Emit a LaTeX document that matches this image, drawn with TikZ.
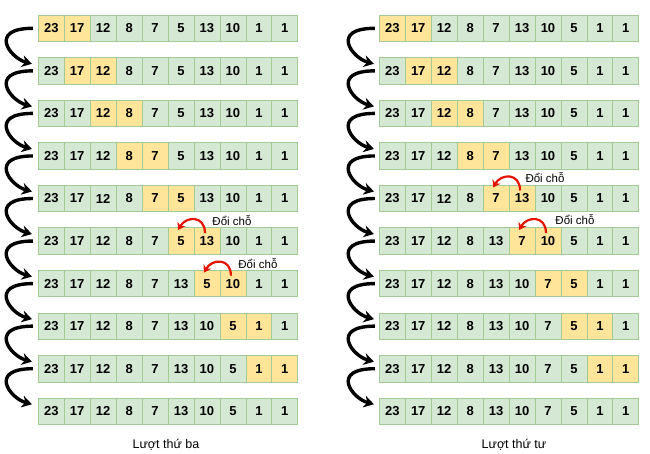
\documentclass[tikz,border=0pt]{standalone}
\usepackage{fontspec}
\setmainfont{Liberation Sans}
\usetikzlibrary{arrows.meta,calc}
\definecolor{gfill}{HTML}{D5E8D4}
\definecolor{gdraw}{HTML}{A3C994}
\definecolor{yfill}{HTML}{FFE599}
\definecolor{swapred}{HTML}{E51400}
\begin{document}
\begin{tikzpicture}[x=1pt,y=-1pt,
  cell/.style={draw=gdraw, fill=gfill, minimum width=25.95pt, minimum height=26.5pt,
    inner sep=0pt, line width=0.8pt, font=\fontsize{13}{15}\selectfont\bfseries},
  hl/.style={fill=yfill},
  flow/.style={line width=3.4pt, -{Stealth[length=10pt,width=12pt]}},
  swaparrow/.style={draw=swapred, line width=2.2pt, -{Stealth[length=7pt,width=9pt]}},
  lbl/.style={font=\fontsize{11.5}{13}\selectfont},
  captext/.style={font=\fontsize{12.5}{14}\selectfont}]
\useasboundingbox (0,0) rectangle (650,454);

% left panel
\foreach \r/\vals/\ha in {
  1/{23,17,12,8,7,5,13,10,1,1}/0,
  2/{23,17,12,8,7,5,13,10,1,1}/1,
  3/{23,17,12,8,7,5,13,10,1,1}/2,
  4/{23,17,12,8,7,5,13,10,1,1}/3,
  5/{23,17,12,8,7,5,13,10,1,1}/4,
  6/{23,17,12,8,7,5,13,10,1,1}/5,
  7/{23,17,12,8,7,13,5,10,1,1}/6,
  8/{23,17,12,8,7,13,10,5,1,1}/7,
  9/{23,17,12,8,7,13,10,5,1,1}/8,
  10/{23,17,12,8,7,13,10,5,1,1}/-5}{
  \foreach \v [count=\c from 0] in \vals {
    \pgfmathtruncatemacro\isH{((\c==\ha)||(\c==\ha+1))?1:0}
    \ifnum\isH=1 \def\st{hl}\else\def\st{}\fi
    \node[cell,\st] (L-\r-\c) at (38.3+12.975+25.95*\c, 28.3+42.55*\r-42.55) {\v};
  }
}

% right panel
\foreach \r/\vals/\ha in {
  1/{23,17,12,8,7,13,10,5,1,1}/0,
  2/{23,17,12,8,7,13,10,5,1,1}/1,
  3/{23,17,12,8,7,13,10,5,1,1}/2,
  4/{23,17,12,8,7,13,10,5,1,1}/3,
  5/{23,17,12,8,7,13,10,5,1,1}/4,
  6/{23,17,12,8,13,7,10,5,1,1}/5,
  7/{23,17,12,8,13,10,7,5,1,1}/6,
  8/{23,17,12,8,13,10,7,5,1,1}/7,
  9/{23,17,12,8,13,10,7,5,1,1}/8,
  10/{23,17,12,8,13,10,7,5,1,1}/-5}{
  \foreach \v [count=\c from 0] in \vals {
    \pgfmathtruncatemacro\isH{((\c==\ha)||(\c==\ha+1))?1:0}
    \ifnum\isH=1 \def\st{hl}\else\def\st{}\fi
    \node[cell,\st] (R-\r-\c) at (379.3+12.975+25.95*\c, 28.3+42.55*\r-42.55) {\v};
  }
}

% flow arrows
\foreach \r [evaluate=\r as \n using int(\r+1)] in {1,...,8,9}{
  \draw[flow] ($(L-\r-0.west)+(-5,0)$) .. controls +(-45,0) and +(-22,-6) .. ($(L-\n-0.west)+(-6,-7)$);
  \draw[flow] ($(R-\r-0.west)+(-4,0)$) .. controls +(-45,0) and +(-22,-6) .. ($(R-\n-0.west)+(-5,-7)$);
}

% swaps
\draw[swaparrow] ($(L-6-6.center)+(-2,-8)$) .. controls +(0,-18) and +(8,-14) .. ($(L-6-5.center)+(-3,-11)$);
\node[lbl] (sL6) at ($(L-6-6.center)+(25,-20)$) {Đổi chỗ};
\draw[swaparrow] ($(L-7-7.center)+(-2,-8)$) .. controls +(0,-18) and +(8,-14) .. ($(L-7-6.center)+(-3,-11)$);
\node[lbl] (sL7) at ($(L-7-7.center)+(25,-20)$) {Đổi chỗ};
\draw[swaparrow] ($(R-5-5.center)+(-2,-8)$) .. controls +(0,-18) and +(8,-14) .. ($(R-5-4.center)+(-3,-11)$);
\node[lbl] (sR5) at ($(R-5-5.center)+(23,-21)$) {Đổi chỗ};
\draw[swaparrow] ($(R-6-6.center)+(-2,-8)$) .. controls +(0,-18) and +(8,-14) .. ($(R-6-5.center)+(-3,-11)$);
\node[lbl] (sR6) at ($(R-6-6.center)+(27,-21)$) {Đổi chỗ};

% captions
\node[captext] (capL) at (166,445) {Lượt thứ ba};
\node[captext] (capR) at (514,445) {Lượt thứ tư};
\end{tikzpicture}
\end{document}
